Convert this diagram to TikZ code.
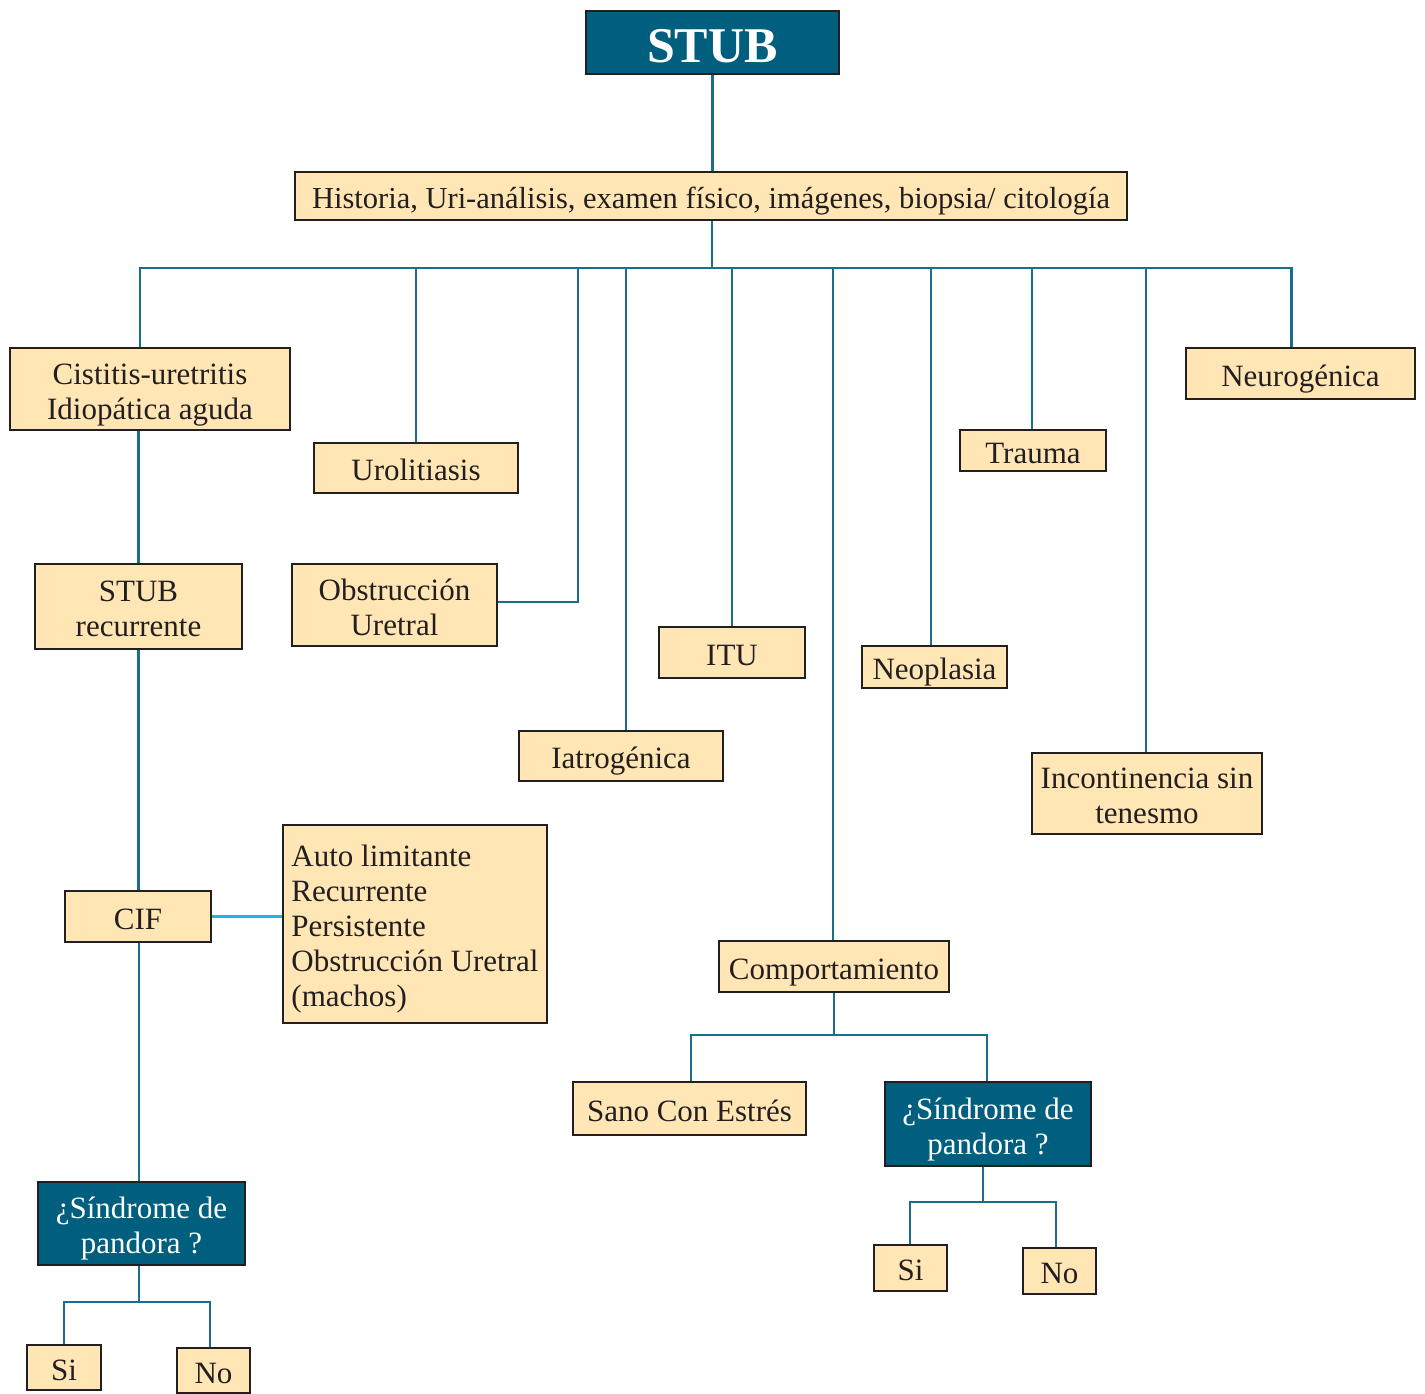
\documentclass[tikz,border=0pt]{standalone}
\usepackage{fontspec}
\setmainfont{Liberation Serif}
% struts that fix where the first baseline and the last depth sit in a box
\newcommand\boxtopstrut{\rule{0pt}{32pt}}
\newcommand\boxbotstrut{\rule[-7pt]{0pt}{0pt}}
\begin{document}
\definecolor{deepteal}{HTML}{005E7E}
\definecolor{linkteal}{HTML}{1A6D8C}
\definecolor{lightcyan}{HTML}{1FB4E2}
\definecolor{cream}{HTML}{FFE6B4}
\definecolor{edge}{HTML}{231F20}
\begin{tikzpicture}[x=1pt,y=-1pt,
  box/.style={draw=edge,line width=2.6pt,fill=cream,inner sep=0pt,align=center,
    font=\fontsize{31}{35}\selectfont,text=edge},
  darkbox/.style={box,fill=deepteal,text=white},
  link/.style={draw=linkteal,line width=2.3pt},
  sidelink/.style={draw=lightcyan,line width=2.3pt}]
\clip (0,0) rectangle (1425,1393);
\fill[white] (0,0) rectangle (1425,1393);

% top of the tree
\node[darkbox,minimum width=253pt,minimum height=63pt,font=\fontsize{50}{56}\selectfont\bfseries] (stub) at (712.5,42.5)
  {\rule{0pt}{45pt}STUB\rule[-6pt]{0pt}{0pt}};
\node[box,minimum width=832pt,minimum height=48pt,font=\fontsize{30.5}{34}\selectfont] (hist) at (711,196)
  {\boxtopstrut Historia, Uri-análisis, examen físico, imágenes, biopsia/ citología\boxbotstrut};

% causes
\node[box,minimum width=280pt,minimum height=82pt] (cist) at (150,389) {\boxtopstrut Cistitis-uretritis\\Idiopática aguda\boxbotstrut};
\node[box,minimum width=204pt,minimum height=50pt] (urol) at (416,468) {\boxtopstrut Urolitiasis\boxbotstrut};
\node[box,minimum width=205pt,minimum height=82pt] (obst) at (394.5,605) {\boxtopstrut Obstrucción\\Uretral\boxbotstrut};
\node[box,minimum width=207pt,minimum height=85pt] (rec) at (138.5,606.5) {\boxtopstrut STUB\\recurrente\boxbotstrut};
\node[box,minimum width=204pt,minimum height=50pt] (iatr) at (621,756) {\boxtopstrut Iatrogénica\boxbotstrut};
\node[box,minimum width=146pt,minimum height=51pt] (itu) at (732,652.5) {\boxtopstrut ITU\boxbotstrut};
\node[box,minimum width=145pt,minimum height=42pt] (neop) at (934.5,667) {\boxtopstrut Neoplasia\boxbotstrut};
\node[box,minimum width=146pt,minimum height=41pt] (trau) at (1033,450.5) {\boxtopstrut Trauma\boxbotstrut};
\node[box,minimum width=229pt,minimum height=51pt] (neur) at (1300.5,373.5) {\boxtopstrut Neurogénica\boxbotstrut};
\node[box,minimum width=230pt,minimum height=81pt] (inco) at (1147,793.5) {\boxtopstrut Incontinencia sin\\tenesmo\boxbotstrut};

% left branch
\node[box,minimum width=146pt,minimum height=51pt] (cif) at (138,916.5) {\boxtopstrut CIF\boxbotstrut};
\node[box,minimum width=264pt,minimum height=198pt,inner xsep=8pt,align=left] (auto) at (415,924)
  {\boxtopstrut Auto limitante\\Recurrente\\Persistente\\Obstrucción Uretral\\(machos)\boxbotstrut};
\node[darkbox,minimum width=207pt,minimum height=83pt] (pl) at (141.5,1223.5) {\boxtopstrut ¿Síndrome de\\pandora ?\boxbotstrut};
\node[box,minimum width=74pt,minimum height=45pt] (sil) at (64,1367.5) {\boxtopstrut Si\boxbotstrut};
\node[box,minimum width=73pt,minimum height=45pt] (nol) at (213.5,1370.5) {\boxtopstrut No\boxbotstrut};

% behaviour branch
\node[box,minimum width=230pt,minimum height=51pt] (comp) at (834,966.5) {\boxtopstrut Comportamiento\boxbotstrut};
\node[box,minimum width=233pt,minimum height=53pt] (sano) at (689.5,1108.5) {\boxtopstrut Sano Con Estrés\boxbotstrut};
\node[darkbox,minimum width=206pt,minimum height=84pt] (pr) at (988,1124) {\boxtopstrut ¿Síndrome de\\pandora ?\boxbotstrut};
\node[box,minimum width=73pt,minimum height=46pt] (sir) at (910.5,1268) {\boxtopstrut Si\boxbotstrut};
\node[box,minimum width=73pt,minimum height=46pt] (nor) at (1059.5,1271) {\boxtopstrut No\boxbotstrut};

% junction points
\coordinate (bus) at (712,268);
\coordinate (obus) at (578,268);
\coordinate (cj) at (834,1035);
\coordinate (rj) at (983,1202);
\coordinate (lj) at (139,1302);

\draw[link] (stub.south) -- (stub.south |- hist.north);
\draw[link] (bus |- hist.south) -- (bus);
\draw[link] ([xshift=-10pt]cist.north) |- ([xshift=-9pt]neur.north |- bus) -- ([xshift=-9pt]neur.north);
\draw[link] (urol.north) -- (urol.north |- bus);
\draw[link] ([yshift=3pt]obst.east) -| (obus);
\draw[link] ([xshift=5pt]iatr.north) -- ([xshift=5pt]iatr.north |- bus);
\draw[link] (itu.north) -- (itu.north |- bus);
\draw[link] ([xshift=-1pt]comp.north) -- ([xshift=-1pt]comp.north |- bus);
\draw[link] ([xshift=-3.5pt]neop.north) -- ([xshift=-3.5pt]neop.north |- bus);
\draw[link] ([xshift=-1pt]trau.north) -- ([xshift=-1pt]trau.north |- bus);
\draw[link] ([xshift=-1pt]inco.north) -- ([xshift=-1pt]inco.north |- bus);

\draw[link] (rec.north) -- (rec.north |- cist.south);
\draw[link] (rec.south) -- (rec.south |- cif.north);
\draw[link] ([xshift=1pt]cif.south) -- ([xshift=1pt]cif.south |- pl.north);
\draw[sidelink] (cif.east) -- (cif.east -| auto.west);
\draw[link] (lj |- pl.south) -- (lj);
\draw[link] (sil.north) |- (lj) -| ([xshift=-3.5pt]nol.north);

\draw[link] (comp.south) -- (cj);
\draw[link] ([xshift=1.5pt]sano.north) |- (cj) -| ([xshift=-1pt]pr.north);
\draw[link] (rj |- pr.south) -- (rj);
\draw[link] ([xshift=-0.5pt]sir.north) |- (rj) -| ([xshift=-3.5pt]nor.north);
\end{tikzpicture}
\end{document}
